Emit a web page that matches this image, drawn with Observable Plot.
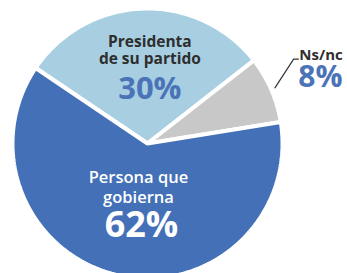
<!DOCTYPE html>
<html>
<head>
<meta charset="utf-8">
<script src="https://cdn.jsdelivr.net/npm/d3@7"></script>
<script src="https://cdn.jsdelivr.net/npm/@observablehq/plot@0.6"></script>
<style>
  html, body { margin: 0; padding: 0; background: #fff; overflow: hidden; }
  #chart svg text { font-family: "Open Sans", sans-serif; }
</style>
</head>
<body>
<div id="chart"></div>
<script>
// ---- data ----
const categories = ["Presidenta de su partido", "Ns/nc", "Persona que gobierna"];
const values = [30, 8, 62];
const labelLines = [["Presidenta", "de su partido"], ["Ns/nc"], ["Persona que", "gobierna"]];
const percentLabels = ["30%", "8%", "62%"];
const colors = ["#a8cfe1", "#c8c8c8", "#4470b8"];

// ---- layout ----
const W = 347, H = 273;
const cx = 147, cy = 143, R = 135;
const startDeg = -56;
const rad = d => d * Math.PI / 180;

const arcs = d3.pie().sort(null).value(d => d)
  .startAngle(rad(startDeg)).endAngle(rad(startDeg) + 2 * Math.PI)(values);

// polygon points for each slice in unit coordinates (y up)
const polar = (a, r) => ({x: Math.sin(a) * r, y: Math.cos(a) * r});
const slicePts = [];
arcs.forEach((a, i) => {
  slicePts.push({cat: categories[i], ...polar(0, 0)});
  const n = Math.max(4, Math.ceil((a.endAngle - a.startAngle) / rad(1)));
  for (let k = 0; k <= n; k++) {
    const ang = a.startAngle + (a.endAngle - a.startAngle) * k / n;
    slicePts.push({cat: categories[i], ...polar(ang, 1)});
  }
});

const mid = a => (a.startAngle + a.endAngle) / 2;
// inner labels
const lightC = polar(mid(arcs[0]), 0.56);
const darkC = polar(mid(arcs[2]), 0.45);
// leader for small slice
const lead0 = polar(mid(arcs[1]), 1.03);
const lead1 = polar(rad(60), 1.25);
const lead2 = {x: lead1.x + 0.035, y: lead1.y};
const leader = [lead0, lead1, lead2];

const chart = Plot.plot({
  width: W, height: H, margin: 0,
  x: {domain: [-1, 1], range: [cx - R, cx + R], axis: null},
  y: {domain: [-1, 1], range: [cy + R, cy - R], axis: null},
  color: {domain: categories, range: colors},
  style: {background: "transparent", overflow: "visible"},
  marks: [
    Plot.line(slicePts, {x: "x", y: "y", z: "cat", fill: "cat", stroke: "white",
      strokeWidth: 4, curve: "linear-closed", strokeLinejoin: "miter"}),
    Plot.line(leader, {x: "x", y: "y", stroke: "#333", strokeWidth: 1.2}),
    // light blue slice labels
    Plot.text([lightC], {x: "x", y: "y", text: () => labelLines[0].join("\n"), dx: 5, dy: -4,
      lineAnchor: "bottom", lineHeight: 1.1, fontSize: 15.5, fontWeight: 700, fill: "#2e2e2e"}),
    Plot.text([lightC], {x: "x", y: "y", text: () => percentLabels[0], dx: 5, dy: 31,
      lineAnchor: "bottom", fontSize: 31, fontWeight: 700, fill: "#4a73b8"}),
    // dark blue slice labels
    Plot.text([darkC], {x: "x", y: "y", text: () => labelLines[2].join("\n"), dx: 4, dy: 0,
      lineAnchor: "bottom", lineHeight: 1.2, fontSize: 16.5, fontWeight: 600, fill: "white"}),
    Plot.text([darkC], {x: "x", y: "y", text: () => percentLabels[2], dx: 7, dy: 34,
      lineAnchor: "bottom", fontSize: 36, fontWeight: 700, fill: "white"}),
    // small slice labels
    Plot.text([lead2], {x: "x", y: "y", text: () => labelLines[1][0], dx: 1, dy: 1,
      textAnchor: "start", lineAnchor: "bottom", fontSize: 15, fontWeight: 700, fill: "#2e2e2e"}),
    Plot.text([lead2], {x: "x", y: "y", text: () => percentLabels[1], dx: 0, dy: 28,
      textAnchor: "start", lineAnchor: "bottom", fontSize: 30, fontWeight: 700, fill: "#4a73b8"})
  ]
});
document.getElementById("chart").appendChild(chart);
</script>
</body>
</html>
